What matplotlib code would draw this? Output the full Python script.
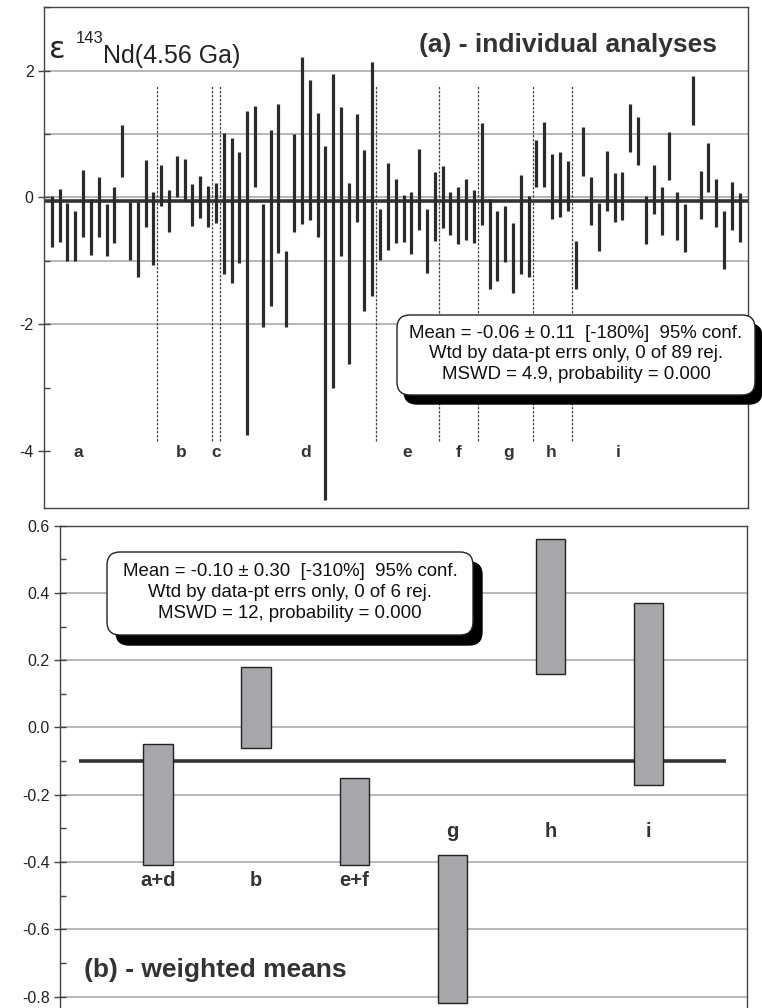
import numpy as np
import matplotlib
matplotlib.use("Agg")
import matplotlib.pyplot as plt
from matplotlib.patches import FancyBboxPatch
from matplotlib.ticker import MultipleLocator, FormatStrFormatter

plt.rcParams['font.family'] = ['Liberation Sans', 'DejaVu Sans']
plt.rcParams['axes.unicode_minus'] = False

# panel (a) - analisis individuales (limites de las barras de error)
grupos = ['a', 'b', 'c', 'd', 'e', 'f', 'g', 'h', 'i']
tam_grupos = [14, 7, 1, 20, 8, 5, 7, 5, 22]
sup = [0.02, 0.14, -0.08, -0.21, 0.43, -0.02, 0.32, -0.10, 0.16, 1.15,
       -0.07, -0.07, 0.59, 0.08, 0.52, 0.12, 0.66, 0.61, 0.22, 0.34,
       0.18, 0.23, 1.02, 0.94, 0.72, 1.36, 1.44, -0.10, 1.06, 1.48,
       -0.85, 1.00, 2.21, 1.85, 1.34, 0.82, 1.95, 1.43, 0.23, 1.31,
       0.75, 2.13, -0.18, 0.54, 0.29, 0.04, 0.08, 0.77, -0.18, 0.41,
       0.49, 0.08, 0.16, 0.29, 0.12, 1.18, -0.02, -0.22, -0.13, -0.40,
       0.35, 0.02, 0.91, 1.19, 0.68, 0.71, 0.58, -0.68, 1.11, 0.33,
       -0.08, 0.73, 0.38, 0.40, 1.48, 1.27, 0.03, 0.51, 0.17, 1.03,
       0.09, -0.11, 1.91, 0.42, 0.86, 0.29, -0.22, 0.25, 0.07]
inf = [-0.78, -0.70, -1.01, -1.01, -0.62, -0.91, -0.62, -0.92, -0.72, 0.33,
       -0.98, -1.26, -0.46, -1.06, -0.14, -0.55, 0.00, -0.06, -0.45, -0.32,
       -0.47, -0.41, -1.21, -1.35, -1.03, -3.74, 0.17, -2.04, -1.72, -0.88,
       -2.04, -0.55, -0.42, -0.36, -0.63, -4.78, -3.01, -0.92, -2.62, -0.39,
       -1.79, -1.55, -0.98, -0.83, -0.72, -0.71, -0.89, -0.52, -1.19, -0.68,
       -0.48, -0.59, -0.74, -0.67, -0.72, -0.43, -1.45, -1.31, -1.02, -1.50,
       -1.21, -1.25, 0.16, 0.16, -0.34, -0.31, -0.22, -1.45, 0.34, -0.43,
       -0.85, -0.21, -0.38, -0.35, 0.72, 0.51, -0.74, -0.26, -0.59, 0.28,
       -0.67, -0.86, 1.15, -0.34, 0.08, -0.47, -1.13, -0.51, -0.71]
media_a = -0.06

# panel (b) - medias ponderadas
grupos_b = ['a+d', 'b', 'e+f', 'g', 'h', 'i']
sup_b = [-0.05, 0.18, -0.15, -0.38, 0.56, 0.37]
inf_b = [-0.41, -0.06, -0.41, -0.82, 0.16, -0.17]
media_b = -0.10

texto_a = ("Mean = -0.06 \u00b1 0.11  [-180%]  95% conf.\n"
           "Wtd by data-pt errs only, 0 of 89 rej.\n"
           "MSWD = 4.9, probability = 0.000")
texto_b = ("Mean = -0.10 \u00b1 0.30  [-310%]  95% conf.\n"
           "Wtd by data-pt errs only, 0 of 6 rej.\n"
           "MSWD = 12, probability = 0.000")

gris_grid = '#a3a3a3'
oscuro = '#2b2b2b'
texto_col = '#333333'


def caja(fig, x0, y0, w, h, dx, dy, texto):
    # sombra negra desplazada + caja blanca redondeada (en pulgadas)
    sombra = FancyBboxPatch((x0 + dx, y0 - dy), w, h,
                            boxstyle="round,pad=0,rounding_size=0.13",
                            transform=fig.dpi_scale_trans, facecolor='black',
                            edgecolor='black', lw=1, zorder=10)
    frente = FancyBboxPatch((x0, y0), w, h,
                            boxstyle="round,pad=0,rounding_size=0.13",
                            transform=fig.dpi_scale_trans, facecolor='white',
                            edgecolor='#222222', lw=1, zorder=11)
    fig.add_artist(sombra)
    fig.add_artist(frente)
    fig.text(x0 + w / 2, y0 + h / 2 + 0.01, texto, transform=fig.dpi_scale_trans,
             ha='center', va='center', fontsize=13.4, color='#111111',
             linespacing=1.27, zorder=12)


def estilo_eje(ax):
    for s in ax.spines.values():
        s.set_color('#444444')
        s.set_linewidth(1.0)
    ax.set_xticks([])
    ax.tick_params(axis='y', which='major', direction='inout', length=9, width=1,
                   labelsize=11.5, pad=3, colors='#444444', labelcolor='#222222')
    ax.tick_params(axis='y', which='minor', direction='in', length=4, width=1,
                   colors='#444444')


fig = plt.figure(figsize=(7.62, 10.08), dpi=100)

# ---------------- panel (a)
ax1 = fig.add_axes([0.0577, 0.496, 0.9233, 0.4967])
x = np.arange(1, len(sup) + 1)
for g in [-2, -1, 0, 1, 2]:
    ax1.axhline(g, color=gris_grid, lw=1.1, zorder=1)
ax1.axhline(media_a, color='#333333', lw=2.6, zorder=2)
limites = np.cumsum(tam_grupos)[:-1] + 0.5
ax1.vlines(limites, -3.85, 1.78, color='#444444', lw=0.9,
           linestyles=(0, (2, 1.2)), zorder=2)
ax1.vlines(x, inf, sup, color=oscuro, lw=2.3, zorder=3)

ax1.set_xlim(0, 90)
ax1.set_ylim(-4.9, 3.0)
ax1.yaxis.set_major_locator(MultipleLocator(2))
ax1.yaxis.set_minor_locator(MultipleLocator(1))
estilo_eje(ax1)

pos_etiquetas = [4.4, 17.6, 22.0, 33.5, 46.5, 53.0, 59.5, 64.9, 73.4]
for lab, px in zip(grupos, pos_etiquetas):
    ax1.text(px, -4.09, lab, ha='center', va='baseline', fontsize=12.5,
             fontweight='bold', color=texto_col)

# etiqueta del eje: epsilon grande, superindice y resto
ax1.text(0.58, 2.2, '\u03b5', ha='left', va='baseline', fontsize=22,
         family='DejaVu Sans', color='#222222')
ax1.text(4.1, 2.43, '143', ha='left', va='baseline', fontsize=12,
         color='#222222')
ax1.text(7.6, 2.12, 'Nd(4.56 Ga)', ha='left', va='baseline', fontsize=18,
         color='#222222')
ax1.text(86.1, 2.29, '(a) - individual analyses', ha='right', va='baseline',
         fontsize=19, fontweight='bold', color=texto_col)

caja(fig, 3.97, 6.13, 3.58, 0.80, 0.07, 0.09, texto_a)

# ---------------- panel (b)
ax2 = fig.add_axes([0.0787, -0.002, 0.9012, 0.4805])
xb = np.arange(1, len(grupos_b) + 1)
for g in np.arange(-0.8, 0.61, 0.2):
    ax2.axhline(g, color=gris_grid, lw=1.1, zorder=1)
ax2.hlines(media_b, 0.19, 6.79, color='#333333', lw=2.6, zorder=2)
alto = np.array(sup_b) - np.array(inf_b)
ax2.bar(xb, alto, bottom=inf_b, width=0.3, color='#a6a7aa',
        edgecolor='#222222', lw=1, zorder=3)

ax2.set_xlim(0, 7)
ax2.set_ylim(-0.84, 0.6)
ax2.yaxis.set_major_locator(MultipleLocator(0.2))
ax2.yaxis.set_minor_locator(MultipleLocator(0.1))
ax2.yaxis.set_major_formatter(FormatStrFormatter('%.1f'))
estilo_eje(ax2)
ax2.spines['bottom'].set_visible(False)

for i, lab in enumerate(grupos_b):
    yl = -0.472 if i < 3 else -0.326
    ax2.text(xb[i], yl, lab, ha='center', va='baseline', fontsize=14.5,
             fontweight='bold', color=texto_col)

ax2.text(0.243, -0.743, '(b) - weighted means', ha='left', va='baseline',
         fontsize=19, fontweight='bold', color=texto_col)

caja(fig, 1.07, 3.73, 3.66, 0.83, 0.09, 0.10, texto_b)

fig.savefig('out.png', dpi=100)
